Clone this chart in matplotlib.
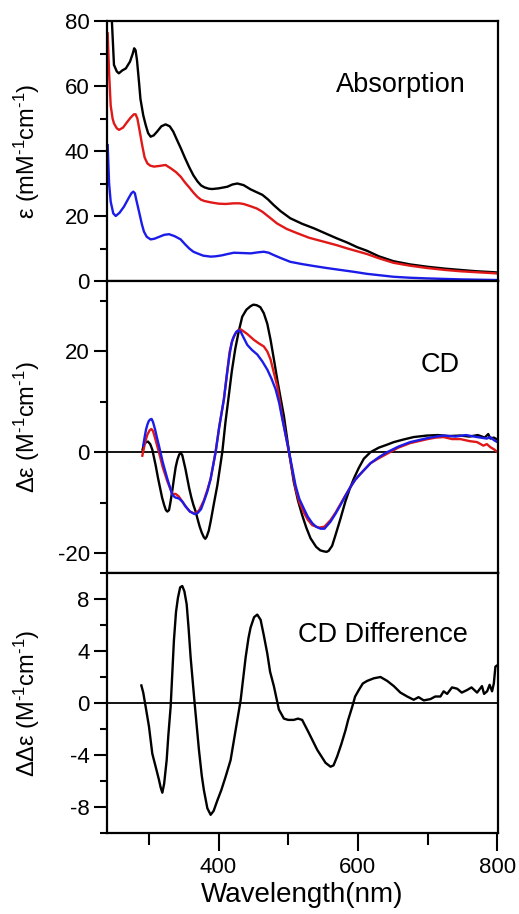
import matplotlib
matplotlib.use("Agg")
import matplotlib.pyplot as plt
from matplotlib.ticker import MultipleLocator

plt.rcParams['font.family'] = ['Liberation Sans', 'DejaVu Sans']
plt.rcParams['axes.unicode_minus'] = False
plt.rcParams['mathtext.fontset'] = 'custom'
plt.rcParams['mathtext.rm'] = 'Liberation Sans'
plt.rcParams['mathtext.it'] = 'Liberation Sans:italic'
plt.rcParams['mathtext.default'] = 'regular'

# ---------------- Absorption (mM-1 cm-1) ----------------
abs_black_x = [244, 247, 250, 254, 257, 262, 267, 273, 277, 279, 281, 283, 286, 288, 292, 295.5, 299, 302.6, 307,
               312, 318, 324, 330, 335, 340, 346, 352, 358, 364, 370, 375, 380, 386, 391, 400, 412.6, 420, 427,
               436, 446, 455, 463, 471, 479, 489, 503, 520, 537, 555, 570, 585, 599, 613,
               630, 651, 675, 699, 725, 747, 770, 795, 800]
abs_black_y = [92, 80, 66.5, 64.5, 63.9, 64.8, 65.4, 67.5, 70, 71.6, 71, 68, 61, 56, 51, 48, 45.5, 44.4, 44.8,
               46, 47.6, 48.2, 47.6, 46, 43.6, 40.8, 37.8, 35, 32.5, 30.6, 29.4, 28.8, 28.4, 28.3, 28.5, 29, 29.7, 30,
               29.5, 28.2, 27.3, 26.5, 25.1, 23.4, 21.5, 19.3, 17.6, 16.2, 14.5, 13.1, 11.8, 10.4, 9.3,
               7.6, 6.1, 5.1, 4.4, 3.8, 3.4, 3.0, 2.7, 2.6]

abs_red_x = [241, 243, 245.3, 248, 250, 254, 257.2, 263, 269.2, 274, 278.7, 281, 283.6, 287, 290.7, 294, 297.9,
             302, 307.4, 315, 324, 332, 339, 345.7, 352, 358, 364, 369.6, 375, 380, 388.7, 400, 410, 422, 430,
             436, 446, 455, 463, 473, 484, 498, 513, 530, 551, 570, 585, 613, 630, 651, 675,
             699, 725, 747, 770, 795, 800]
abs_red_y = [76.2, 64, 54, 50, 48.5, 47, 46.5, 47.2, 49, 50.3, 51.3, 51.3, 50, 46, 41.5, 38, 36.2,
             35.5, 35.2, 35.4, 35.7, 34.6, 33.5, 32.1, 30.3, 28.8, 27.2, 25.9, 25.0, 24.6, 24.2, 23.8, 23.7, 23.9, 23.9,
             23.7, 23.0, 22.3, 21.3, 19.6, 17.7, 16.0, 14.7, 13.3, 12.1, 11.0, 10.0, 8.3, 7.0, 5.6, 4.7,
             4.0, 3.4, 3.0, 2.7, 2.4, 2.3]

abs_blue_x = [241, 243, 245.3, 249, 252.5, 258, 264.4, 271, 275, 277.7, 280, 282, 286, 290, 293, 297, 302.6, 308,
              315, 322, 329, 337, 345.7, 352, 358, 364, 369.6, 378, 388.7, 396, 405, 413, 422, 435, 446, 456,
              465, 472, 479, 490, 503, 520, 537, 555, 575, 595, 613, 630, 651, 675, 699, 747, 800]
abs_blue_y = [41.8, 30, 24.4, 20.8, 20, 21, 22.9, 25.5, 27.0, 27.5, 27, 25, 21.3, 17.5, 15.2, 13.6, 12.8, 13.0,
              13.6, 14.2, 14.4, 13.8, 12.8, 11.3, 10.0, 9.0, 8.5, 7.8, 7.5, 7.6, 7.9, 8.3, 8.7, 8.6, 8.5, 8.8,
              9.0, 8.7, 8.0, 7.0, 5.9, 5.2, 4.6, 4.0, 3.4, 2.8, 2.2, 1.8, 1.3, 1.0, 0.8, 0.5, 0.3]

# ---------------- CD (M-1 cm-1) ----------------
cd_black_x = [291, 293, 296, 298.8, 302, 305, 309.8, 313, 316, 319, 322, 324.5, 326.6, 329, 331, 333.5, 336, 338.5,
              341, 343.5, 345.7, 348, 350, 352.5, 355.3, 358, 361, 364, 367.2, 370, 373, 376, 379, 381, 383, 386,
              388.7, 393, 398.3, 405.4, 410, 415, 419, 424, 429, 434, 440, 446, 450, 454.6,
              460, 465, 470, 474.7, 480, 484.3, 489, 493.8, 501, 508, 514, 520, 526, 532, 540, 546, 551, 555, 558, 563,
              568, 575, 582, 588, 594, 601, 608.5, 618, 630, 642, 651.5, 665, 680, 699, 715, 730, 747, 760,
              772, 782, 787, 790, 795, 800]
cd_black_y = [0.5, 1.5, 2.0, 2.1, 1.6, 0.5, -2.6, -5.0, -7.0, -9.0, -10.5, -11.5, -11.8, -11.5, -10.0, -7.8, -5.3, -3.0,
              -1.5, -0.5, -0.1, -0.6, -1.8, -3.3, -5.3, -7.2, -9.0, -10.5, -11.8, -13.3, -14.8, -16.0, -16.9, -17.2, -16.8, -15.6,
              -13.8, -10.5, -6.6, 0.0, 6.0, 11.5, 16.0, 20.5, 24.0, 26.9, 28.3, 29.0, 29.3, 29.2,
              28.8, 27.6, 25.5, 22.3, 18.0, 14.4, 10.8, 7.2, 0.2, -5.9, -9.6, -12.5, -15.0, -17.1, -18.8, -19.5, -19.7, -19.8, -19.6, -18.6,
              -16.4, -13.2, -9.8, -7.4, -5.3, -3.2, -1.3, 0.0, 0.9, 1.5, 2.0, 2.5, 3.0, 3.3, 3.4, 3.2, 3.3, 3.1,
              3.4, 2.9, 3.6, 2.7, 2.9, 2.5]

cd_blue_x = [292, 294, 296, 298, 300, 302, 304, 306, 309, 311.5, 314.5, 320, 326.6, 333.8, 338, 343.2, 348, 352.8,
             359, 365.7, 370, 375, 379, 384, 388.7, 395.8, 401, 407.7, 412.6, 416, 419, 422, 425.5, 429, 432, 434,
             441.3, 448, 455.6, 463, 470, 476, 481.9, 487, 491.5, 501, 510.5, 516, 522.4, 528, 534.5, 540, 546.4, 552,
             560.7, 568, 575, 582, 589.4, 596, 603.7, 618, 630, 642, 658, 675, 700, 712, 723, 740, 755, 771, 785, 790,
             795, 800]
cd_blue_y = [1.3, 3.0, 4.5, 5.5, 6.2, 6.5, 6.6, 6.0, 4.5, 3.0, 1.3, -2.0, -5.3, -8.5, -9.0, -9.2, -9.8, -10.8,
             -11.8, -12.3, -12.1, -11.3, -9.8, -7.8, -5.3, 0.0, 5.0, 10.5, 16.0, 19.5, 21.8, 23.0, 23.9, 24.2, 23.9, 23.3,
             21.3, 20.3, 19.4, 18.0, 16.4, 14.6, 12.5, 9.8, 6.6, 0.2, -6.6, -9.3, -11.2, -12.8, -14.1, -14.8, -15.2, -15.2,
             -13.8, -12.2, -10.5, -8.7, -6.9, -5.5, -4.3, -2.2, -1.0, 0.0, 1.1, 2.0, 2.8, 3.1, 3.3, 3.1, 3.4, 3.0, 2.7, 3.0,
             2.4, 2.0]

cd_red_x = [290.7, 294, 296, 298, 301, 303.7, 306, 309, 311.5, 314.5, 320, 326.6, 333.8, 338.5, 343, 348, 353,
            359, 365.7, 372, 379, 384, 388.7, 395.8, 401, 407.7, 412, 416, 420, 424, 428, 431.7, 436, 441, 450.8,
            458, 465, 470, 474.7, 479, 484.3, 491.5, 501, 510.5, 516, 522.4, 528, 534.5, 544, 552, 560.7, 568, 575,
            582, 589.4, 596, 603.7, 618, 630, 642, 658, 675, 700, 712, 723, 735, 747, 760, 771, 780, 785, 790, 796, 800]
cd_red_y = [-0.7, 1.5, 2.6, 3.5, 4.3, 4.6, 4.2, 2.8, 1.5, 0.0, -3.0, -5.8, -8.3, -8.3, -8.8, -9.8, -10.8,
            -11.8, -12.2, -11.6, -9.6, -7.5, -5.3, 0.0, 5.0, 10.5, 15.5, 20.0, 22.3, 23.5, 24.2, 24.4, 24.0, 23.5, 22.3,
            21.6, 21.0, 20.0, 18.4, 16.0, 13.1, 7.0, 0.0, -7.2, -10.0, -12.0, -13.4, -14.5, -15.0, -14.8, -13.5, -12.0, -10.3,
            -8.6, -6.9, -5.5, -4.3, -2.2, -1.2, -0.3, 0.9, 1.8, 2.6, 2.9, 3.0, 2.6, 2.6, 2.2, 2.0, 1.3, 1.6, 1.0, 0.5, 0.0]

# ---------------- CD difference (M-1 cm-1) ----------------
diff_x = [289.3, 292, 295.5, 300.2, 305, 309.8, 314.5, 317, 319.4, 322, 325.6, 328, 331.3, 336, 339, 341.8, 345, 348,
          351, 354.3, 357, 360, 365.7, 371.9, 376, 379, 384, 388.7, 393, 398.3, 404, 410, 417.3, 424.5, 431.7, 438.9,
          443, 446, 451, 455.6, 460.4, 465, 470, 474, 479.4, 486.6, 493.8, 500, 508, 514, 520, 529.6, 541.6, 553.5,
          560.7, 565, 570.3, 576, 582.2, 586, 591.8, 596, 601.3, 607, 613.3, 622.8, 632.4, 642, 651.5, 661, 670.7,
          680, 687, 694.5, 704, 711, 718.4, 723, 728, 735, 742.4, 749, 756.7, 763, 771, 778, 781, 785.4, 789, 792.5,
          795, 797.3, 800]
diff_y = [1.35, 0.8, -0.3, -1.8, -3.9, -4.9, -5.9, -6.5, -6.9, -6.2, -4.4, -2.5, -0.3, 4.8, 7.0, 8.1, 8.9, 9.0,
          8.6, 7.6, 5.8, 3.5, 0.0, -3.6, -5.6, -6.7, -8.1, -8.6, -8.3, -7.5, -6.7, -5.7, -4.4, -2.1, 0.2, 3.5,
          5.0, 5.8, 6.6, 6.8, 6.4, 5.2, 3.8, 2.4, 1.3, -0.5, -1.2, -1.3, -1.3, -1.2, -1.3, -2.3, -3.6, -4.6,
          -4.9, -4.8, -4.1, -3.2, -2.1, -1.3, -0.3, 0.5, 1.0, 1.5, 1.7, 1.9, 2.0, 1.7, 1.3, 0.8, 0.5,
          0.25, 0.45, 0.2, 0.3, 0.5, 0.5, 0.9, 0.7, 1.2, 1.1, 0.8, 1.0, 1.2, 0.8, 1.3, 0.7, 0.9, 1.4, 0.9,
          1.5, 2.8, 2.9]

x_lim = (240, 801)
x_ticks = [400, 600, 800]

W, H = 519, 914
fig = plt.figure(figsize=(W / 100, H / 100), dpi=100)

def frac(left_px, top_px, right_px, bottom_px):
    return [left_px / W, 1 - bottom_px / H, (right_px - left_px) / W, (bottom_px - top_px) / H]

ax1 = fig.add_axes(frac(107, 21, 498, 281))
ax2 = fig.add_axes(frac(107, 281, 498, 573))
ax3 = fig.add_axes(frac(107, 573, 498, 833))

lw = 1.7
red = '#e01818'
blue = '#1c1ce8'
ax1.plot(abs_black_x, abs_black_y, color='black', lw=lw)
ax1.plot(abs_red_x, abs_red_y, color=red, lw=lw)
ax1.plot(abs_blue_x, abs_blue_y, color=blue, lw=lw)
ax1.set_ylim(0, 80)
ax1.yaxis.set_major_locator(MultipleLocator(20))
ax1.yaxis.set_minor_locator(MultipleLocator(10))

ax2.axhline(0, color='black', lw=1.3)
ax2.plot(cd_black_x, cd_black_y, color='black', lw=lw)
ax2.plot(cd_red_x, cd_red_y, color=red, lw=lw)
ax2.plot(cd_blue_x, cd_blue_y, color=blue, lw=lw)
ax2.set_ylim(-24, 34)
ax2.yaxis.set_major_locator(MultipleLocator(20))
ax2.yaxis.set_minor_locator(MultipleLocator(10))

ax3.axhline(0, color='black', lw=1.3)
ax3.plot(diff_x, diff_y, color='black', lw=lw)
ax3.set_ylim(-10, 10)
ax3.yaxis.set_major_locator(MultipleLocator(4))
ax3.yaxis.set_minor_locator(MultipleLocator(2))

for ax in (ax1, ax2, ax3):
    ax.set_xlim(*x_lim)
    for s in ax.spines.values():
        s.set_linewidth(1.6)
    ax.tick_params(axis='y', which='major', direction='out', length=9.5, width=1.5, labelsize=16, pad=3)
    ax.tick_params(axis='y', which='minor', direction='out', length=5, width=1.5)
    ax.yaxis.set_label_coords(-0.165, 0.5)

for ax in (ax1, ax2):
    ax.tick_params(axis='x', which='both', bottom=False, labelbottom=False)

ax3.set_xticks(x_ticks)
ax3.xaxis.set_minor_locator(MultipleLocator(100))
ax3.tick_params(axis='x', which='major', direction='out', length=13, width=1.5, labelsize=16, pad=4)
ax3.tick_params(axis='x', which='minor', direction='out', length=8.5, width=1.5)

sup = r'$^{\text{-1}}$'
ax1.set_ylabel('ε (mM' + sup + 'cm' + sup + ')', fontsize=17)
ax2.set_ylabel('Δε (M' + sup + 'cm' + sup + ')', fontsize=17)
ax3.set_ylabel('ΔΔε (M' + sup + 'cm' + sup + ')', fontsize=17)
ax3.set_xlabel('Wavelength(nm)', fontsize=20, labelpad=3)

ax1.text(0.752, 0.754, 'Absorption', transform=ax1.transAxes, ha='center', va='center', fontsize=19.5)
ax2.text(0.852, 0.712, 'CD', transform=ax2.transAxes, ha='center', va='center', fontsize=19.5)
ax3.text(0.705, 0.762, 'CD Difference', transform=ax3.transAxes, ha='center', va='center', fontsize=19.5)

fig.savefig('out.png', dpi=100)
